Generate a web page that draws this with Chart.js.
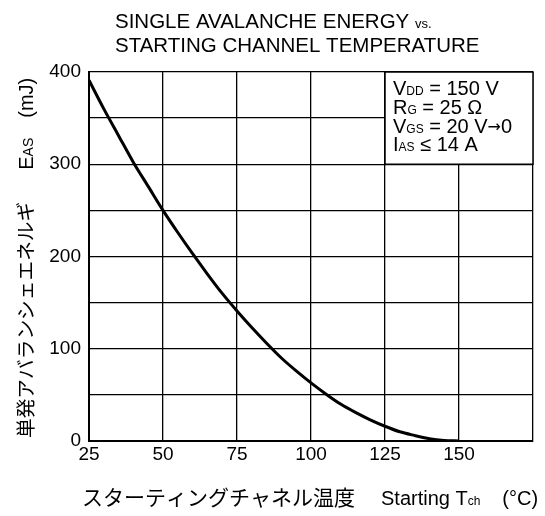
<!DOCTYPE html>
<html>
<head>
<meta charset="utf-8">
<script src="https://cdn.jsdelivr.net/npm/chart.js@4.4.0/dist/chart.umd.min.js"></script>
<style>
  html, body { margin: 0; padding: 0; background: #fff; }
  #wrap { width: 545px; height: 516px; }
</style>
</head>
<body>
<div id="wrap"><canvas id="chart" width="545" height="516"></canvas></div>
<script>
// Starting channel temperature (°C) and single avalanche energy (mJ)
const temps = [25, 30, 35, 40, 45, 50, 55, 60, 65, 70, 75, 80, 85, 90, 95, 100, 105, 110, 115, 120, 125, 130, 135, 140, 145, 150];
const energies = [391, 360, 331, 302, 276, 250, 226, 203, 181, 160, 141, 123, 106, 90, 76, 63, 51, 40, 31, 23, 16, 10, 6, 2.5, 0.6, 0];
const xTicks = [25, 50, 75, 100, 125, 150];
const yTicks = [0, 100, 200, 300, 400];

const LATIN = '"Liberation Sans", Arial, sans-serif';
const CJK = '"Noto Sans CJK JP", sans-serif';
const ARROW = '"DejaVu Sans", sans-serif';

// draw a row of text pieces left to right from x
function drawRuns(ctx, x, y, runs) {
    runs.forEach(r => {
        if (r.gap) { x += r.gap; return; }
        ctx.font = r.size + 'px ' + (r.font || LATIN);
        ctx.fillText(r.text, x, y + (r.dy || 0));
        x += ctx.measureText(r.text).width;
    });
}

const textPlugin = {
    id: 'texts',
    afterDatasetsDraw(chart) {
        const ctx = chart.ctx;
        const xs = chart.scales.x, ys = chart.scales.y;
        // condition box in upper right corner
        const bx = xs.getPixelForValue(125), by = ys.getPixelForValue(400);
        const bw = xs.getPixelForValue(175) - bx, bh = ys.getPixelForValue(300) - by;
        ctx.save();
        ctx.fillStyle = '#fff';
        ctx.fillRect(bx, by, bw, bh);
        ctx.strokeStyle = '#000';
        ctx.lineWidth = 1.5;
        ctx.strokeRect(bx, by, bw, bh);
        ctx.fillStyle = '#000';
        ctx.textBaseline = 'alphabetic';
        const lx = bx + 8;
        drawRuns(ctx, lx, 95, [{ text: 'V', size: 20 }, { text: 'DD', size: 12 }, { text: ' = 150 V', size: 20 }]);
        drawRuns(ctx, lx, 114, [{ text: 'R', size: 20 }, { text: 'G', size: 12 }, { text: ' = 25 Ω', size: 20 }]);
        drawRuns(ctx, lx, 133, [{ text: 'V', size: 20 }, { text: 'GS', size: 12 }, { text: ' = 20 V', size: 20 },
            { text: '→', size: 16, font: ARROW, dy: -1 }, { text: '0', size: 20 }]);
        drawRuns(ctx, lx, 151, [{ text: 'I', size: 20 }, { text: 'AS', size: 12 }, { text: ' ≤ 14 A', size: 20 }]);
        ctx.restore();
    },
    afterDraw(chart) {
        const ctx = chart.ctx;
        ctx.save();
        ctx.fillStyle = '#000';
        ctx.textBaseline = 'alphabetic';
        // title
        drawRuns(ctx, 115, 28, [{ text: 'SINGLE AVALANCHE ENERGY ', size: 20.5 }, { text: 'vs.', size: 13 }]);
        drawRuns(ctx, 115, 52, [{ text: 'STARTING CHANNEL TEMPERATURE', size: 20.5 }]);
        // x axis title
        drawRuns(ctx, 82, 505, [
            { text: 'スターティングチャネル温度', size: 21, font: CJK },
            { gap: 26 },
            { text: 'Starting T', size: 20 }, { text: 'ch', size: 12 },
            { gap: 22 },
            { text: '(°C)', size: 20 }
        ]);
        // y axis title, rotated
        ctx.translate(33, 438);
        ctx.rotate(-Math.PI / 2);
        drawRuns(ctx, 0, 0, [
            { text: '単発アバランシェエネルギ', size: 19.7, font: CJK },
            { gap: 32 },
            { text: 'E', size: 20 }, { text: 'AS', size: 14 },
            { gap: 20 },
            { text: '(mJ)', size: 20 }
        ]);
        ctx.restore();
    }
};

new Chart(document.getElementById('chart'), {
    type: 'line',
    data: {
        datasets: [{
            data: temps.map((t, i) => ({ x: t, y: energies[i] })),
            borderColor: '#000',
            borderWidth: 3,
            pointRadius: 0,
            tension: 0.3,
            fill: false
        }]
    },
    options: {
        responsive: false,
        animation: false,
        events: [],
        layout: { padding: { left: 0, top: 72, right: 12, bottom: 0 } },
        plugins: { legend: { display: false }, tooltip: { enabled: false }, title: { display: false } },
        scales: {
            x: {
                type: 'linear',
                min: 25, max: 175,
                afterFit: s => { s.height = 75; },
                afterBuildTicks: s => { s.ticks = xTicks.concat([175]).map(v => ({ value: v })); },
                ticks: {
                    color: '#000',
                    font: { family: LATIN, size: 19 },
                    padding: 2,
                    maxRotation: 0,
                    autoSkip: false,
                    callback: v => xTicks.includes(v) ? String(v) : ''
                },
                grid: { color: '#000', lineWidth: 1.3, drawTicks: false },
                border: { color: '#000', width: 2 }
            },
            y: {
                min: 0, max: 400,
                afterFit: s => { s.width = 89; },
                ticks: {
                    stepSize: 50,
                    color: '#000',
                    font: { family: LATIN, size: 19 },
                    padding: 8,
                    callback: v => yTicks.includes(v) ? String(v) : ''
                },
                grid: { color: '#000', lineWidth: 1.3, drawTicks: false },
                border: { color: '#000', width: 2 }
            }
        }
    },
    plugins: [textPlugin]
});
</script>
</body>
</html>
